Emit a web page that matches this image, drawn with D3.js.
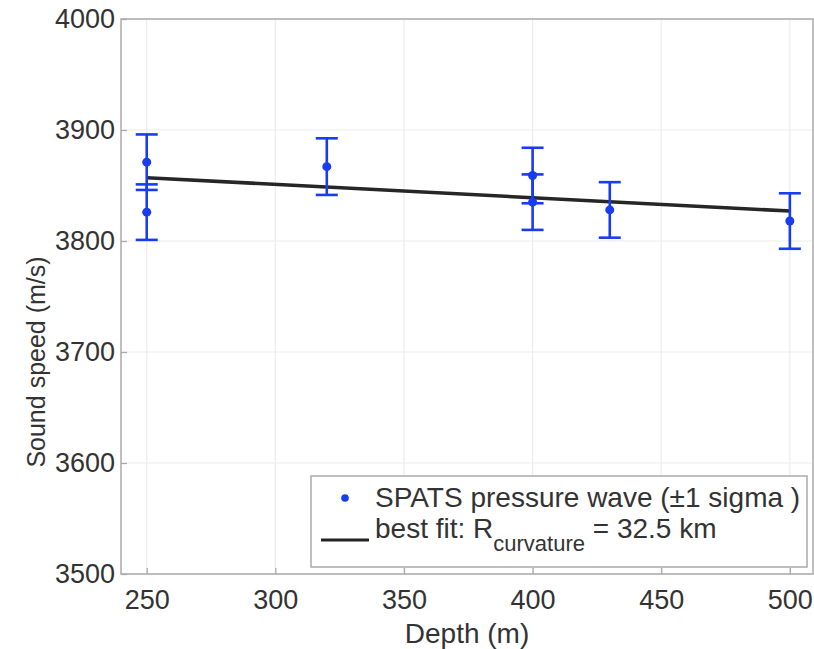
<!DOCTYPE html>
<html>
<head>
<meta charset="utf-8">
<script src="https://cdn.jsdelivr.net/npm/d3@7"></script>
<style>
  body { margin: 0; background: #fff; }
  svg { display: block; font-family: "Liberation Sans", Arial, Helvetica, sans-serif; }
</style>
</head>
<body>
<svg id="chart" width="814" height="649"></svg>
<script>
// measured depths (m) and sound speed (m/s) with 1 sigma error
var depth = [250, 250, 320, 400, 400, 430, 500];
var speed = [3871, 3826, 3867, 3859, 3835, 3828, 3818];
var sigma = [25, 25, 25.5, 25, 25, 25, 25];

// best fit line end points
var fitDepth = [250, 500];
var fitSpeed = [3857, 3827];

var xTicks = [250, 300, 350, 400, 450, 500];
var yTicks = [3500, 3600, 3700, 3800, 3900, 4000];

var xLabel = "Depth (m)";
var yLabel = "Sound speed (m/s)";
var legendPoints = "SPATS pressure wave (\u00b11 sigma )";

var box = { left: 121, right: 813, top: 19, bottom: 574 };
var blue = "#1a3cf0";
var textColor = "#333";

var svg = d3.select("#chart");

var x = d3.scaleLinear().domain([240, 509]).range([box.left, box.right]);
var y = d3.scaleLinear().domain([3500, 4000]).range([box.bottom, box.top]);

// grid
var grid = svg.append("g").attr("class", "grid");
grid.selectAll("line.gx")
    .data(xTicks).enter().append("line")
    .attr("x1", function(d) { return x(d); })
    .attr("x2", function(d) { return x(d); })
    .attr("y1", box.top).attr("y2", box.bottom)
    .attr("stroke", "#ececec").attr("stroke-width", 1.2);
grid.selectAll("line.gy")
    .data(yTicks).enter().append("line")
    .attr("y1", function(d) { return y(d); })
    .attr("y2", function(d) { return y(d); })
    .attr("x1", box.left).attr("x2", box.right)
    .attr("stroke", "#ececec").attr("stroke-width", 1.2);

// axes (ticks inward, like matlab)
var xAxis = svg.append("g")
    .attr("transform", "translate(0," + box.bottom + ")")
    .call(d3.axisBottom(x).tickValues(xTicks).tickFormat(d3.format("d"))
        .tickSizeInner(-6).tickSizeOuter(0).tickPadding(16));
var yAxis = svg.append("g")
    .attr("transform", "translate(" + box.left + ",0)")
    .call(d3.axisLeft(y).tickValues(yTicks).tickFormat(d3.format("d"))
        .tickSizeInner(-6).tickSizeOuter(0).tickPadding(6));

[xAxis, yAxis].forEach(function(g) {
    g.select(".domain").remove();
    g.selectAll(".tick line").attr("stroke", "#aaa").attr("stroke-width", 1.3);
    g.selectAll(".tick text")
        .attr("fill", textColor)
        .attr("font-size", 27)
        .attr("font-family", "Liberation Sans, Arial, sans-serif");
});

// box around plot
svg.append("rect")
    .attr("x", box.left).attr("y", box.top)
    .attr("width", box.right - box.left).attr("height", box.bottom - box.top)
    .attr("fill", "none").attr("stroke", "#aaa").attr("stroke-width", 1.5);

// axis labels
svg.append("text")
    .attr("x", 467)
    .attr("y", 643)
    .attr("text-anchor", "middle")
    .attr("font-size", 28)
    .attr("fill", textColor)
    .text(xLabel);

svg.append("text")
    .attr("transform", "translate(45," + 362 + ") rotate(-90)")
    .attr("text-anchor", "middle")
    .attr("font-size", 25)
    .attr("fill", textColor)
    .text(yLabel);

// fit line
svg.append("line")
    .attr("x1", x(fitDepth[0])).attr("y1", y(fitSpeed[0]))
    .attr("x2", x(fitDepth[1])).attr("y2", y(fitSpeed[1]))
    .attr("stroke", "#262626").attr("stroke-width", 3.6);

// error bars
var capHalf = 11;
var bars = svg.append("g").attr("class", "errorbars")
    .selectAll("g").data(depth).enter().append("g");

bars.append("line")
    .attr("x1", function(d) { return x(d); })
    .attr("x2", function(d) { return x(d); })
    .attr("y1", function(d, i) { return y(speed[i] - sigma[i]); })
    .attr("y2", function(d, i) { return y(speed[i] + sigma[i]); })
    .attr("stroke", blue).attr("stroke-width", 2.6);
bars.append("line")
    .attr("x1", function(d) { return x(d) - capHalf; })
    .attr("x2", function(d) { return x(d) + capHalf; })
    .attr("y1", function(d, i) { return y(speed[i] + sigma[i]); })
    .attr("y2", function(d, i) { return y(speed[i] + sigma[i]); })
    .attr("stroke", blue).attr("stroke-width", 2.6);
bars.append("line")
    .attr("x1", function(d) { return x(d) - capHalf; })
    .attr("x2", function(d) { return x(d) + capHalf; })
    .attr("y1", function(d, i) { return y(speed[i] - sigma[i]); })
    .attr("y2", function(d, i) { return y(speed[i] - sigma[i]); })
    .attr("stroke", blue).attr("stroke-width", 2.6);
bars.append("circle")
    .attr("cx", function(d) { return x(d); })
    .attr("cy", function(d, i) { return y(speed[i]); })
    .attr("r", 4.5)
    .attr("fill", blue);

// legend
var leg = svg.append("g").attr("class", "legend");
leg.append("rect")
    .attr("x", 311).attr("y", 476)
    .attr("width", 496).attr("height", 91)
    .attr("fill", "#fff").attr("stroke", "#aaa").attr("stroke-width", 1.5);
leg.append("circle")
    .attr("cx", 345).attr("cy", 498).attr("r", 3.8).attr("fill", blue);
leg.append("text")
    .attr("x", 375).attr("y", 507)
    .attr("font-size", 28).attr("fill", textColor)
    .text(legendPoints);
leg.append("line")
    .attr("x1", 321).attr("x2", 369)
    .attr("y1", 540).attr("y2", 540)
    .attr("stroke", "#222").attr("stroke-width", 3);
var fitText = leg.append("text")
    .attr("x", 375).attr("y", 538)
    .attr("font-size", 28).attr("fill", textColor);
fitText.append("tspan").text("best fit: R");
fitText.append("tspan").attr("dy", 13).attr("font-size", 22).text("curvature");
fitText.append("tspan").attr("dy", -13).text(" = 32.5 km");
</script>
</body>
</html>
